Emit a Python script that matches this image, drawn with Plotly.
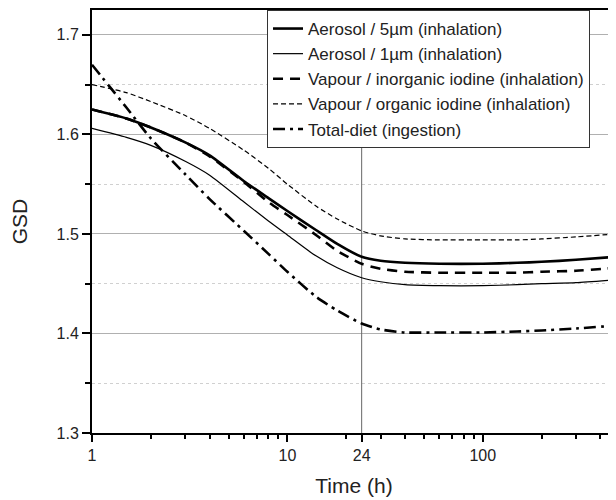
import plotly.graph_objects as go

# Time (h)
time_h = [1, 1.5, 2, 3, 4, 6, 8, 10, 14, 18, 24, 30, 40, 60, 100, 150, 200, 300, 480]

aerosol_5um = [1.625, 1.616, 1.607, 1.592, 1.579, 1.553, 1.536, 1.523, 1.504, 1.490, 1.477,
               1.473, 1.471, 1.470, 1.470, 1.471, 1.472, 1.474, 1.477]
aerosol_1um = [1.606, 1.597, 1.589, 1.573, 1.559, 1.532, 1.513, 1.499, 1.478, 1.466, 1.456,
               1.452, 1.449, 1.448, 1.448, 1.449, 1.450, 1.451, 1.454]
vapour_inorganic = [1.625, 1.616, 1.607, 1.592, 1.578, 1.552, 1.532, 1.519, 1.499, 1.483, 1.470,
                    1.465, 1.462, 1.461, 1.461, 1.461, 1.462, 1.463, 1.466]
vapour_organic = [1.650, 1.642, 1.633, 1.619, 1.606, 1.584, 1.566, 1.550, 1.528, 1.515, 1.503,
                  1.498, 1.495, 1.494, 1.494, 1.494, 1.495, 1.497, 1.500]
total_diet = [1.670, 1.627, 1.596, 1.560, 1.535, 1.503, 1.480, 1.462, 1.437, 1.423, 1.410,
              1.404, 1.401, 1.401, 1.401, 1.402, 1.403, 1.405, 1.408]

x_tickvals = [1, 10, 24, 100]
x_ticktext = ["1", "10", "24", "100"]
x_minor = [2, 3, 4, 5, 6, 7, 8, 9, 20, 30, 40, 50, 60, 70, 80, 90, 200, 300, 400]
y_tickvals = [1.3, 1.4, 1.5, 1.6, 1.7]
ref_time = 24
y_range = [1.3, 1.725]

FONT = "Liberation Sans, Arial, sans-serif"

fig = go.Figure()

# reference vertical line at 24 h
fig.add_trace(go.Scatter(x=[ref_time, ref_time], y=y_range, mode="lines",
                         line=dict(color="#666666", width=1), showlegend=False,
                         hoverinfo="skip"))

series = [
    ("Aerosol / 5µm (inhalation)", aerosol_5um, dict(color="black", width=2.6, dash="solid")),
    ("Aerosol / 1µm (inhalation)", aerosol_1um, dict(color="black", width=1.2, dash="solid")),
    ("Vapour / inorganic iodine (inhalation)", vapour_inorganic,
     dict(color="black", width=2.6, dash="10px,7px")),
    ("Vapour / organic iodine (inhalation)", vapour_organic,
     dict(color="black", width=1.2, dash="5px,3px")),
    ("Total-diet (ingestion)", total_diet, dict(color="black", width=2.6, dash="12px,5px,3px,5px")),
]
for name, ys, ln in series:
    fig.add_trace(go.Scatter(x=time_h, y=ys, mode="lines", name=name,
                             line=dict(shape="spline", smoothing=0.6, **ln)))

# page body has an 8px default margin, so the figure is 8px smaller than the window
fig.update_layout(
    width=608, height=492,
    margin=dict(l=84, r=0, t=2, b=67, autoexpand=False),
    paper_bgcolor="white", plot_bgcolor="white",
    font=dict(family=FONT, size=16, color="#222222"),
    legend=dict(x=0.334, y=1.0, xanchor="left", yanchor="top",
                bgcolor="white", bordercolor="#333333", borderwidth=1,
                font=dict(size=17, family=FONT, color="#222222"),
                tracegroupgap=0),
)
fig.update_xaxes(
    type="log", range=[0, 2.682], automargin=False,
    tickvals=x_tickvals, ticktext=x_ticktext,
    ticks="outside", ticklen=7, tickwidth=1.5, tickcolor="black",
    showline=True, linecolor="black", linewidth=2, mirror=True,
    showgrid=False, zeroline=False,
    minor=dict(tickvals=x_minor, ticks="outside", ticklen=4, tickcolor="black", showgrid=False),
    title=dict(text="Time (h)", font=dict(size=21, family=FONT), standoff=15),
    tickfont=dict(size=16, family=FONT),
)
fig.update_yaxes(
    range=y_range, tickvals=y_tickvals, ticktext=[f"{v:.1f}" for v in y_tickvals],
    automargin=False,
    ticks="outside", ticklen=8, tickwidth=1.5, tickcolor="black",
    showline=True, linecolor="black", linewidth=2, mirror=False,
    showgrid=True, gridcolor="#b0b0b0", gridwidth=1, zeroline=False,
    minor=dict(dtick=0.05, tick0=1.35, ticks="outside", ticklen=5, tickcolor="black",
               showgrid=True, gridcolor="#d0d0d0", griddash="dot", gridwidth=1),
    title=dict(text="GSD", font=dict(size=21, family=FONT), standoff=28),
    tickfont=dict(size=16, family=FONT),
)

fig.write_html("out.html")
